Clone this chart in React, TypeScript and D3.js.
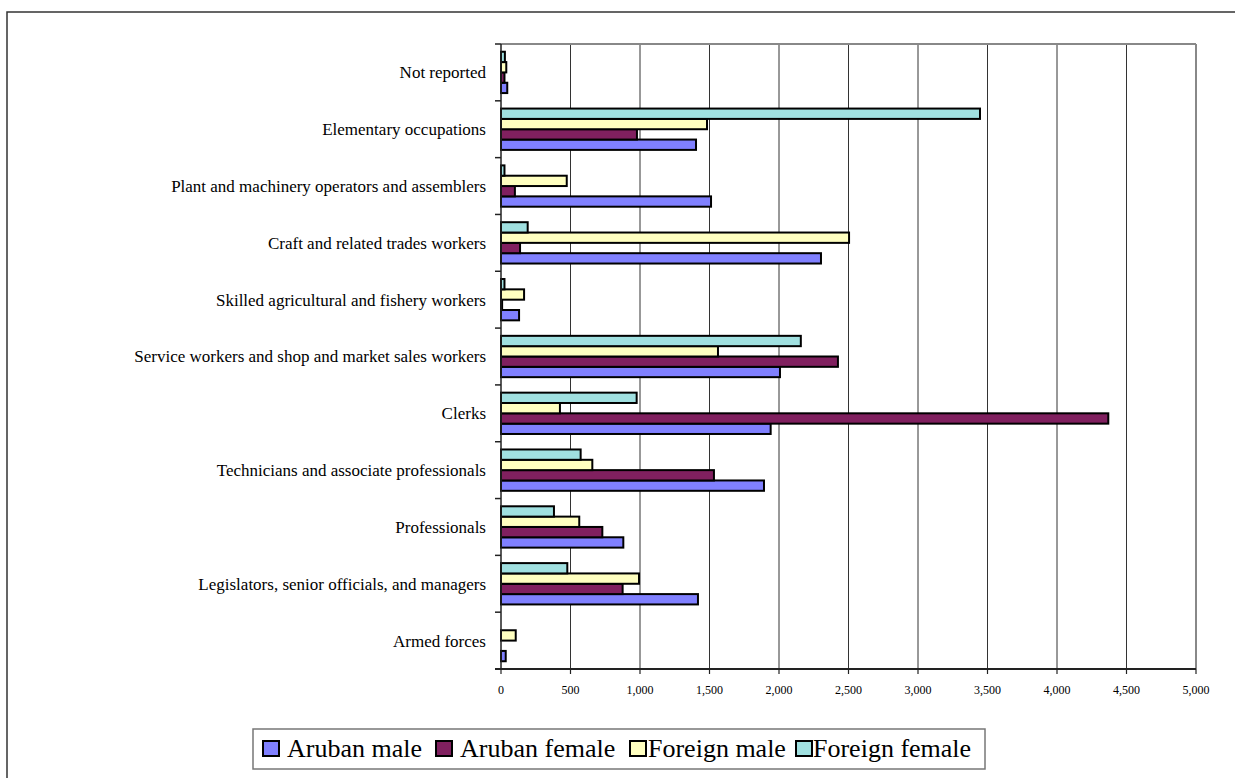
import React from "react";
import * as d3 from "d3";

const categories = [
  "Armed forces",
  "Legislators, senior officials, and managers",
  "Professionals",
  "Technicians and associate professionals",
  "Clerks",
  "Service workers and shop and market sales workers",
  "Skilled agricultural and fishery workers",
  "Craft and related trades workers",
  "Plant and machinery operators and assemblers",
  "Elementary occupations",
  "Not reported",
];

const seriesNames = ["Aruban male", "Aruban female", "Foreign male", "Foreign female"];
const seriesColors = ["#8080FF", "#80205F", "#FFFFC0", "#A0E0E0"];

const arubanMale = [34, 1417, 880, 1892, 1940, 2007, 130, 2302, 1511, 1403, 45];
const arubanFemale = [0, 875, 729, 1532, 4369, 2424, 8, 137, 100, 978, 25];
const foreignMale = [106, 993, 563, 657, 424, 1561, 166, 2504, 473, 1482, 38];
const foreignFemale = [0, 477, 381, 573, 976, 2157, 25, 192, 25, 3446, 28];

const seriesValues = [arubanMale, arubanFemale, foreignMale, foreignFemale];
const xTicks = [0, 500, 1000, 1500, 2000, 2500, 3000, 3500, 4000, 4500, 5000];

export default function App() {
  const W = 1235;
  const H = 778;
  const left = 501;
  const right = 1196;
  const top = 44;
  const bottom = 669;

  const x = d3.scaleLinear().domain([0, 5000]).range([left, right]);
  const y = d3
    .scaleBand<string>()
    .domain(categories.slice().reverse())
    .range([top, bottom])
    .paddingInner(0)
    .paddingOuter(0);
  const band = y.bandwidth();
  const barH = band / 5.5;
  const gap = band - 4 * barH;
  const fmt = d3.format(",");

  const legendItems = [
    { x: 263, tx: 287 },
    { x: 436, tx: 460 },
    { x: 630, tx: 648 },
    { x: 796, tx: 813 },
  ];

  return (
    <svg
      width={W}
      height={H}
      style={{ position: "absolute", left: 0, top: 0, background: "#fff" }}
      fontFamily="'Liberation Serif', 'Times New Roman', serif"
    >
      <rect x={7} y={12} width={1260} height={800} fill="#fff" stroke="#333" strokeWidth={1.5} />

      {xTicks.slice(1, -1).map((t) => (
        <line key={"g" + t} x1={x(t)} x2={x(t)} y1={top} y2={bottom} stroke="#333" strokeWidth={1} />
      ))}
      <line x1={left} x2={right} y1={top} y2={top} stroke="#888" strokeWidth={2} />
      <line x1={right} x2={right} y1={top} y2={bottom} stroke="#888" strokeWidth={2} />

      {categories.map((c, ci) => {
        const y0 = (y(c) as number) + gap / 2;
        return seriesValues.map((vals, si) => {
          const by = y0 + (3 - si) * barH;
          const v = vals[ci];
          return (
            <rect
              key={c + si}
              x={x(0)}
              y={by}
              width={Math.max(0, x(v) - x(0))}
              height={barH}
              fill={seriesColors[si]}
              stroke="#000"
              strokeWidth={v > 0 ? 2 : 0}
            />
          );
        });
      })}

      <line x1={left} x2={left} y1={top} y2={bottom} stroke="#222" strokeWidth={1.5} />
      <line x1={left - 6} x2={right} y1={bottom} y2={bottom} stroke="#222" strokeWidth={2} />
      {categories.map((c) => (
        <line
          key={"ct" + c}
          x1={left - 6}
          x2={left}
          y1={y(c) as number}
          y2={y(c) as number}
          stroke="#222"
          strokeWidth={1.5}
        />
      ))}
      {xTicks.map((t) => (
        <g key={"t" + t}>
          <line x1={x(t)} x2={x(t)} y1={bottom} y2={bottom + 5} stroke="#222" strokeWidth={1.2} />
          <text x={x(t)} y={bottom + 25} fontSize={12} textAnchor="middle" fill="#000">
            {fmt(t)}
          </text>
        </g>
      ))}
      {categories.map((c) => (
        <text
          key={"l" + c}
          x={486}
          y={(y(c) as number) + band / 2}
          dy="0.35em"
          fontSize={17}
          textAnchor="end"
          fill="#000"
        >
          {c}
        </text>
      ))}

      <rect x={253} y={729} width={732} height={40} fill="#fff" stroke="#777" strokeWidth={1.5} />
      {seriesNames.map((s, i) => (
        <g key={s}>
          <rect x={legendItems[i].x} y={741} width={16} height={15} fill={seriesColors[i]} stroke="#000" strokeWidth={2} />
          <text x={legendItems[i].tx} y={757} fontSize={26} fill="#000">
            {s}
          </text>
        </g>
      ))}
    </svg>
  );
}
